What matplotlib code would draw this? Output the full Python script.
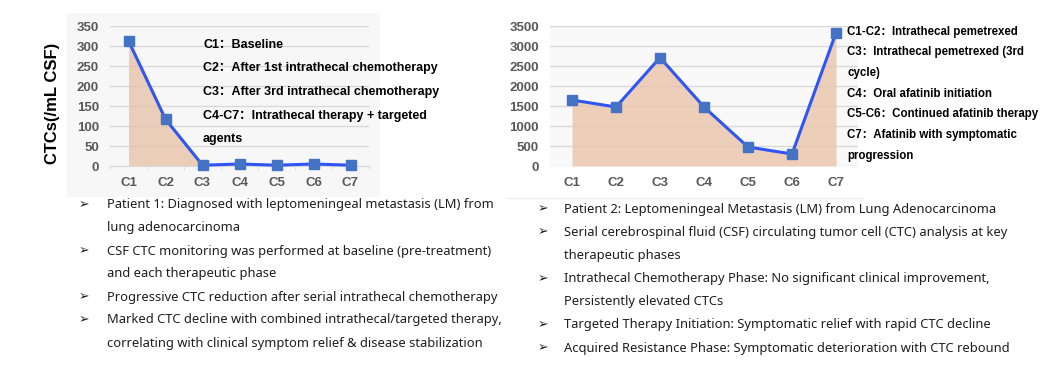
import matplotlib
matplotlib.use("Agg")
import matplotlib.pyplot as plt
from matplotlib.patches import Rectangle
from matplotlib.lines import Line2D
import numpy as np

# ---------------- data ----------------
categories = ["C1", "C2", "C3", "C4", "C5", "C6", "C7"]
patient1_ctc = [313, 117, 2, 5, 2, 5, 2]
patient2_ctc = [1650, 1475, 2710, 1475, 475, 300, 3330]
p1_yticks = [0, 50, 100, 150, 200, 250, 300, 350]
p2_yticks = [0, 500, 1000, 1500, 2000, 2500, 3000, 3500]
ylabel = "CTCs(/mL CSF)"

p1_notes = ["C1：Baseline",
            "C2：After 1st intrathecal chemotherapy",
            "C3：After 3rd intrathecal chemotherapy",
            "C4-C7：Intrathecal therapy + targeted",
            "agents"]
p2_notes = ["C1-C2：Intrathecal pemetrexed",
            "C3：Intrathecal pemetrexed (3rd",
            "cycle)",
            "C4：Oral afatinib initiation",
            "C5-C6：Continued afatinib therapy",
            "C7：Afatinib with symptomatic",
            "progression"]
p1_bullets = [["Patient 1: Diagnosed with leptomeningeal metastasis (LM) from",
               "lung adenocarcinoma"],
              ["CSF CTC monitoring was performed at baseline (pre-treatment)",
               "and each therapeutic phase"],
              ["Progressive CTC reduction after serial intrathecal chemotherapy"],
              ["Marked CTC decline with combined intrathecal/targeted therapy,",
               "correlating with clinical symptom relief & disease stabilization"]]
p2_bullets = [["Patient 2: Leptomeningeal Metastasis (LM) from Lung Adenocarcinoma"],
              ["Serial cerebrospinal fluid (CSF) circulating tumor cell (CTC) analysis at key",
               "therapeutic phases"],
              ["Intrathecal Chemotherapy Phase: No significant clinical improvement,",
               "Persistently elevated CTCs"],
              ["Targeted Therapy Initiation: Symptomatic relief with rapid CTC decline"],
              ["Acquired Resistance Phase: Symptomatic deterioration with CTC rebound"]]

# ---------------- figure ----------------
W, H = 1053, 366
fig = plt.figure(figsize=(W / 100, H / 100), dpi=100)
fig.patch.set_facecolor("white")


def fx(x):
    return x / W


def fy(y):
    return 1 - y / H


def axes_px(x0, x1, ytop, ybot):
    return [fx(x0), fy(ybot), (x1 - x0) / W, (ybot - ytop) / H]


LINE_C = "#2f55f5"
MARK_C = "#4472c4"
FILL_C = "#e9c4aa"
GRID_C = "#d9d9d9"
TICK_C = "#595959"
TEXT_C = "#1e1e1e"
chart_font = ["Liberation Sans", "Noto Sans CJK SC", "DejaVu Sans"]
body_font = ["Noto Sans", "DejaVu Sans"]

# grey background panel for left chart
fig.patches.append(Rectangle((fx(67), fy(197)), (380 - 67) / W, (197 - 13) / H,
                             transform=fig.transFigure, facecolor="#f7f7f7",
                             edgecolor="none", zorder=-5))
# faint separator line under right chart
fig.lines.append(Line2D([fx(508), fx(862)], [fy(197.5), fy(197.5)],
                        transform=fig.transFigure, color="#ececf4", lw=1,
                        zorder=-5))


def draw_chart(ax, values, yticks, edge_ticks):
    x = np.arange(len(categories))
    ax.set_facecolor("none")
    ax.set_xlim(-0.5, len(categories) - 0.5)
    ax.set_ylim(yticks[0], yticks[-1])
    ax.set_yticks(yticks)
    ax.set_xticks(x)
    ax.set_xticklabels(categories)
    ax.grid(axis="y", color=GRID_C, lw=1, zorder=0)
    ax.set_axisbelow(True)
    ax.fill_between(x, values, 0, color=FILL_C, alpha=0.8, lw=0, zorder=1)
    ax.plot(x, values, color=LINE_C, lw=2.2, zorder=3, clip_on=False)
    ax.plot(x, values, ls="none", marker="s", ms=6.5, color=MARK_C,
            markeredgecolor=MARK_C, zorder=4, clip_on=False)
    for s in ["top", "right", "left"]:
        ax.spines[s].set_visible(False)
    ax.spines["bottom"].set_visible(edge_ticks)
    ax.spines["bottom"].set_color(GRID_C)
    ax.tick_params(axis="both", length=0, labelcolor=TICK_C, pad=8)
    for lab in ax.get_xticklabels() + ax.get_yticklabels():
        lab.set_fontfamily(chart_font)
        lab.set_fontweight("bold")
        lab.set_fontsize(9.5)
    if edge_ticks:
        ax.set_xticks(np.arange(-0.5, len(categories), 1.0), minor=True)
        ax.tick_params(axis="x", which="minor", length=3, color=GRID_C)


ax1 = fig.add_axes(axes_px(110, 369, 26, 166))
draw_chart(ax1, patient1_ctc, p1_yticks, True)

ax2 = fig.add_axes(axes_px(550, 858, 26, 166))
draw_chart(ax2, patient2_ctc, p2_yticks, False)
ax2.set_facecolor("#f9f9f9")

fig.text(fx(52), fy(103), ylabel, rotation=90, ha="center", va="center",
         fontsize=12, fontweight="bold", family=chart_font, color="black")

# annotations
for i, t in enumerate(p1_notes):
    fig.text(fx(203), fy(45 + 23.5 * i), t, ha="left", va="center",
             fontsize=9, fontweight="bold", family=chart_font, color="black",
             zorder=5)
for i, t in enumerate(p2_notes):
    fig.text(fx(847), fy(31.5 + 20.75 * i), t, ha="left", va="center",
             fontsize=8.3, fontweight="bold", family=chart_font, color="black",
             zorder=5)


def bullets(items, xb, xt, y0, dy):
    y = y0
    for item in items:
        fig.text(fx(xb), fy(y), "➢", ha="center", va="center", fontsize=9,
                 family=body_font, color=TEXT_C)
        for line in item:
            fig.text(fx(xt), fy(y), line, ha="left", va="center", fontsize=9.3,
                     family=body_font, color=TEXT_C)
            y += dy


bullets(p1_bullets, 84, 107, 205, 23)
bullets(p2_bullets, 543, 564, 209, 23.2)

fig.savefig("out.png", dpi=100, facecolor="white")
